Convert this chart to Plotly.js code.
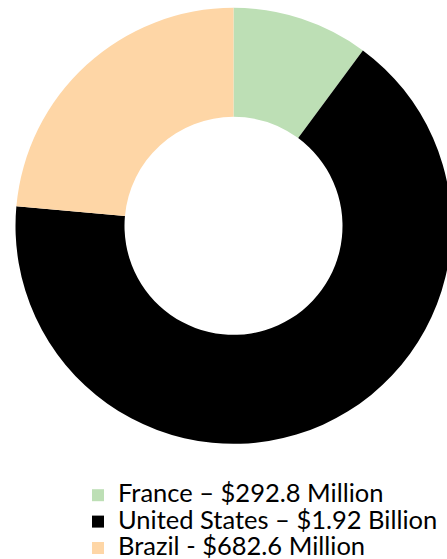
<!DOCTYPE html>
<html><head><meta charset="utf-8">
<script src="https://cdn.plot.ly/plotly-3.0.1.min.js"></script>
<style>html,body{margin:0;padding:0;overflow:hidden;background:#fff;}#chart{width:470px;height:559px;}</style>
</head><body><div id="chart"></div>
<script>
const labels = ["France – $292.8 Million", "United States – $1.92 Billion", "Brazil - $682.6 Million"];
const values = [292.8, 1920, 682.6];
const colors = ["#bddfb5", "#000000", "#fed6a6"];

const W = 470, H = 559;
Plotly.newPlot('chart', [{
  type: 'pie',
  labels: labels.map(s => '<span style="font-size:25.5px">' + s + '</span>'),
  values: values,
  hole: 0.5,
  sort: false,
  direction: 'clockwise',
  rotation: 0,
  textinfo: 'none',
  hoverinfo: 'none',
  marker: {colors: colors, line: {width: 0}},
  domain: {x: [15.5/W, 451.5/W], y: [(H-444)/H, (H-7.7)/H]}
}], {
  width: W, height: H,
  margin: {l: 0, r: 0, t: 0, b: 0, pad: 0, autoexpand: false},
  paper_bgcolor: '#fff',
  showlegend: true,
  legend: {
    x: 78/W, xanchor: 'left', y: (H-477)/H, yanchor: 'top',
    font: {family: 'Lato, sans-serif', size: 18, color: '#000'},
    itemwidth: 30, tracegroupgap: 0, bgcolor: 'rgba(0,0,0,0)'
  }
}, {staticPlot: true});
</script></body></html>
